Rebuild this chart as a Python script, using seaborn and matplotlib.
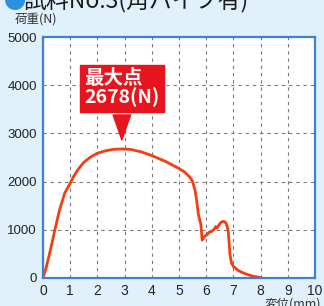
import matplotlib
matplotlib.use("Agg")
import matplotlib.pyplot as plt
import seaborn as sns
import pandas as pd

# ---- data ----
disp_mm = [0.0, 0.1, 0.2, 0.3, 0.44, 0.6, 0.8, 1.0, 1.1, 1.3, 1.5, 1.75, 2.0, 2.3, 2.6, 2.9,
           3.2, 3.6, 4.0, 4.5, 5.0, 5.2, 5.4, 5.5, 5.59, 5.65, 5.71, 5.76, 5.8, 5.83, 5.85,
           5.95, 6.05, 6.1, 6.2, 6.3, 6.35, 6.4, 6.5, 6.57, 6.65, 6.72, 6.78, 6.81, 6.84,
           6.87, 6.93, 7.0, 7.17, 7.3, 7.48, 7.7, 7.9, 8.0]
load_n = [0, 170, 400, 640, 1000, 1390, 1760, 1960, 2080, 2260, 2400, 2510, 2590, 2640, 2670, 2678,
          2670, 2620, 2540, 2420, 2270, 2200, 2090, 2000, 1815, 1600, 1330, 1200, 1125, 950, 780,
          860, 900, 940, 960, 1010, 1060, 1030, 1120, 1160, 1170, 1140, 1050, 960, 750,
          500, 300, 230, 150, 110, 70, 30, 8, 0]
x_ticks = [0, 1, 2, 3, 4, 5, 6, 7, 8, 9, 10]
y_ticks = [0, 1000, 2000, 3000, 4000, 5000]
peak_x = 2.9
peak_load = 2678
title_text = "試料No.3(角パイプ有)"
ylabel_text = "荷重(N)"
xlabel_text = "変位(mm)"
peak_label = "最大点\n2678(N)"

df = pd.DataFrame({"disp": disp_mm, "load": load_n})

sns.set_style("white")
plt.rcParams["font.family"] = ["Noto Sans CJK JP", "DejaVu Sans"]

bg = "#e1f1fb"
fig = plt.figure(figsize=(3.24, 3.06), dpi=100, facecolor=bg)
ax = fig.add_axes([0.1327, 0.0931, 0.8395, 0.7844])
ax.set_facecolor("white")

ax.grid(True, color="#7a7a7a", linestyle=(0, (3, 3.5)), linewidth=0.8)
sns.lineplot(data=df, x="disp", y="load", ax=ax, color="#f23e12", linewidth=2.0,
             sort=False, estimator=None)

ax.set_xlim(0, 10)
ax.set_ylim(0, 5000)
ax.set_xticks(x_ticks)
ax.set_yticks(y_ticks)
ax.set_xticklabels([str(t) for t in x_ticks], fontsize=10, family="Liberation Sans")
ax.set_yticklabels([str(t) for t in y_ticks], fontsize=9.5, family="Liberation Sans")
ax.tick_params(axis="both", length=3, width=0.8, color="#7a7a7a", pad=1.5, labelcolor="#222222")
ax.set_xlabel("")
ax.set_ylabel("")
for s in ax.spines.values():
    s.set_color("#3d82d2")
    s.set_linewidth(1.6)

red = "#e8141e"
ax.annotate(peak_label, xy=(peak_x, peak_load + 130), xytext=(peak_x, 3940),
            ha="center", va="center", multialignment="left",
            fontsize=14, fontweight="bold", color="white", linespacing=0.95,
            bbox=dict(boxstyle="square,pad=0.22", fc=red, ec=red),
            arrowprops=dict(arrowstyle="wedge,tail_width=0.9,shrink_factor=0.5", fc=red, ec=red))

# figure texts
fig.text(4 / 324, 1 - 8 / 306, "●", color="#2f8fe0", fontsize=16, va="baseline", ha="left")
fig.text(23 / 324, 1 - 8 / 306, title_text, color="#1a1a1a", fontsize=16.5, va="baseline", ha="left")
fig.text(15 / 324, 1 - 22.5 / 306, ylabel_text, color="#333333", fontsize=9, va="baseline", ha="left")
fig.text(321 / 324, 1 - 298 / 306, xlabel_text, color="#333333", fontsize=9, va="top", ha="right")

fig.savefig("out.png", dpi=100, facecolor=bg)
